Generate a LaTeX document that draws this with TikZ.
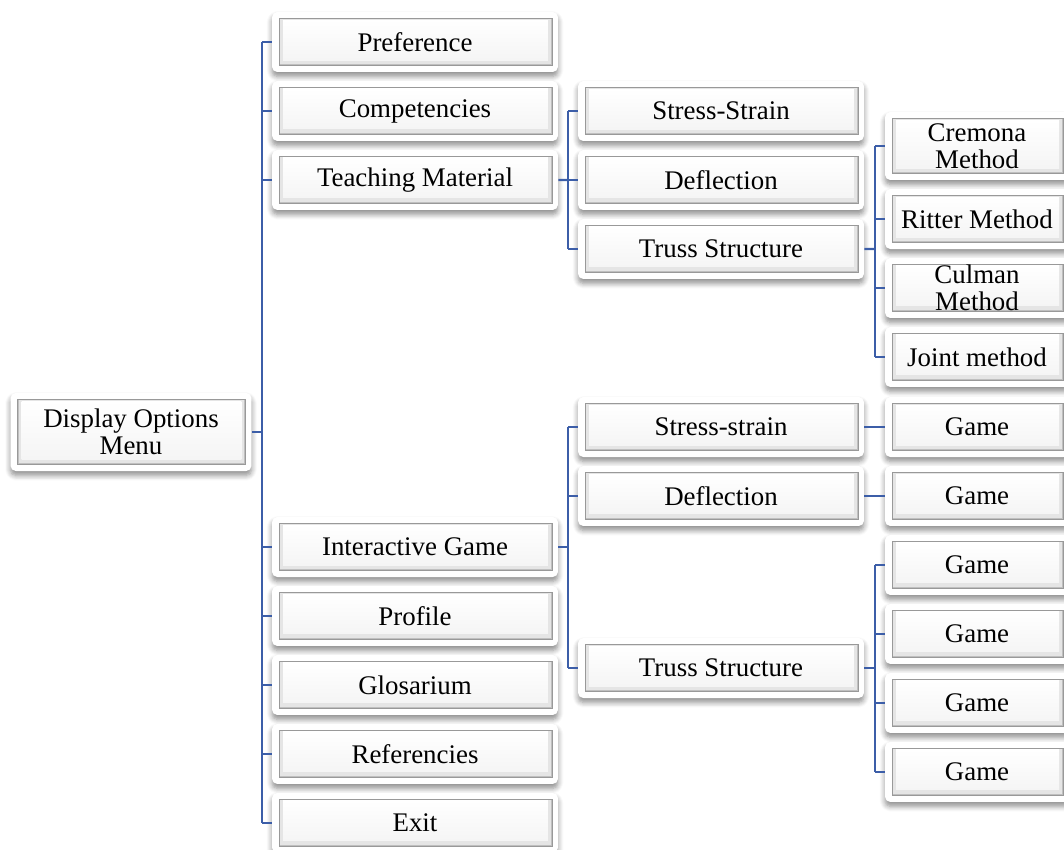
\documentclass[tikz,border=0pt]{standalone}
\usepackage{fontspec}
\setmainfont{Liberation Serif}
\usetikzlibrary{positioning,calc,shadows.blur}

\definecolor{linkblue}{RGB}{60,94,168}

\tikzset{
  btn/.style={rectangle, rounded corners=3pt, fill=white, inner sep=0pt, align=center,
    font=\fontsize{15.3}{15.3}\selectfont,
    blur shadow={shadow xshift=0pt, shadow yshift=-2.5pt, shadow blur radius=3pt,
      shadow blur steps=6, shadow opacity=45},
    path picture={
      \fill[gray!50, draw=gray!80, line width=0.4pt, sharp corners]
        ($(path picture bounding box.south west)+(0.14cm,0.14cm)$) rectangle
        ($(path picture bounding box.north east)+(-0.12cm,-0.12cm)$);
      \fill[gray!20, sharp corners]
        ($(path picture bounding box.south west)+(0.16cm,0.16cm)$) rectangle
        ($(path picture bounding box.north east)+(-0.14cm,-0.14cm)$);
      \shade[top color=white, bottom color=gray!8, sharp corners]
        ($(path picture bounding box.south west)+(0.22cm,0.24cm)$) rectangle
        ($(path picture bounding box.north east)+(-0.2cm,-0.16cm)$);
    }},
  wide/.style={btn, minimum width=5.72cm, minimum height=1.2cm},
  small/.style={btn, minimum width=3.68cm, minimum height=1.2cm},
  link/.style={draw=linkblue, line width=1.3pt}
}

\begin{document}
\begin{tikzpicture}[x=0.02cm, y=-0.02cm, node distance=1.38cm]
  \useasboundingbox (0,0) rectangle (1064,849);

  \node[btn, minimum width=4.82cm, minimum height=1.56cm] (menu) at (131,432) {Display Options\\Menu};

  \node[wide] (pref)               at (415,42) {Preference};
  \node[wide] (comp)   [below of=pref]        {Competencies};
  \node[wide] (teach)  [below of=comp]        {Teaching Material};
  \node[wide] (inter)              at (415,547) {Interactive Game};
  \node[wide] (prof)   [below of=inter]       {Profile};
  \node[wide] (glos)   [below of=prof]        {Glosarium};
  \node[wide] (refs)   [below of=glos]        {Referencies};
  \node[wide] (quit)   [below of=refs]        {Exit};

  \node[wide] (ss)                 at (721,111) {Stress-Strain};
  \node[wide] (defl)   [below of=ss]          {Deflection};
  \node[wide] (truss)  [below of=defl]        {Truss Structure};
  \node[wide] (gss)                at (721,427) {Stress-strain};
  \node[wide] (gdefl)  [below of=gss]         {Deflection};
  \node[wide] (gtruss)             at (721,668) {Truss Structure};

  \node[small, minimum height=1.36cm] (cremona) at (977,146) {Cremona\\Method};
  \node[small] (ritter)            at (977,219) {Ritter Method};
  \node[small] (culman) [below of=ritter]     {Culman\\Method};
  \node[small] (joint)  [below of=culman]     {Joint method};

  \node[small] (game1)             at (977,427) {Game};
  \foreach \i [count=\j from 2] in {1,...,5}
    \node[small] (game\j) [below of=game\i] {Game};

  % junctions
  \coordinate (jmenu)   at (262,432);
  \coordinate (jteach)  at (568,180);
  \coordinate (jinter)  at (568,547);
  \coordinate (jtruss)  at (875,249);
  \coordinate (jgtruss) at (875,668);

  \draw[link] (menu.east) -- (jmenu);
  \draw[link] (pref.west -| jmenu) -- (quit.west -| jmenu);
  \foreach \n in {pref,comp,teach,inter,prof,glos,refs,quit}
    \draw[link] (\n.west -| jmenu) -- (\n.west);

  \draw[link] (teach.east) -- (jteach);
  \draw[link] (ss.west -| jteach) -- (truss.west -| jteach);
  \foreach \n in {ss,defl,truss}
    \draw[link] (\n.west -| jteach) -- (\n.west);

  \draw[link] (truss.east) -- (jtruss);
  \draw[link] (cremona.west -| jtruss) -- (joint.west -| jtruss);
  \foreach \n in {cremona,ritter,culman,joint}
    \draw[link] (\n.west -| jtruss) -- (\n.west);

  \draw[link] (inter.east) -- (jinter);
  \draw[link] (gss.west -| jinter) -- (gtruss.west -| jinter);
  \foreach \n in {gss,gdefl,gtruss}
    \draw[link] (\n.west -| jinter) -- (\n.west);

  \draw[link] (gss.east) -- (game1.west);
  \draw[link] (gdefl.east) -- (game2.west);

  \draw[link] (gtruss.east) -- (jgtruss);
  \draw[link] (game3.west -| jgtruss) -- (game6.west -| jgtruss);
  \foreach \n in {game3,game4,game5,game6}
    \draw[link] (\n.west -| jgtruss) -- (\n.west);
\end{tikzpicture}
\end{document}
